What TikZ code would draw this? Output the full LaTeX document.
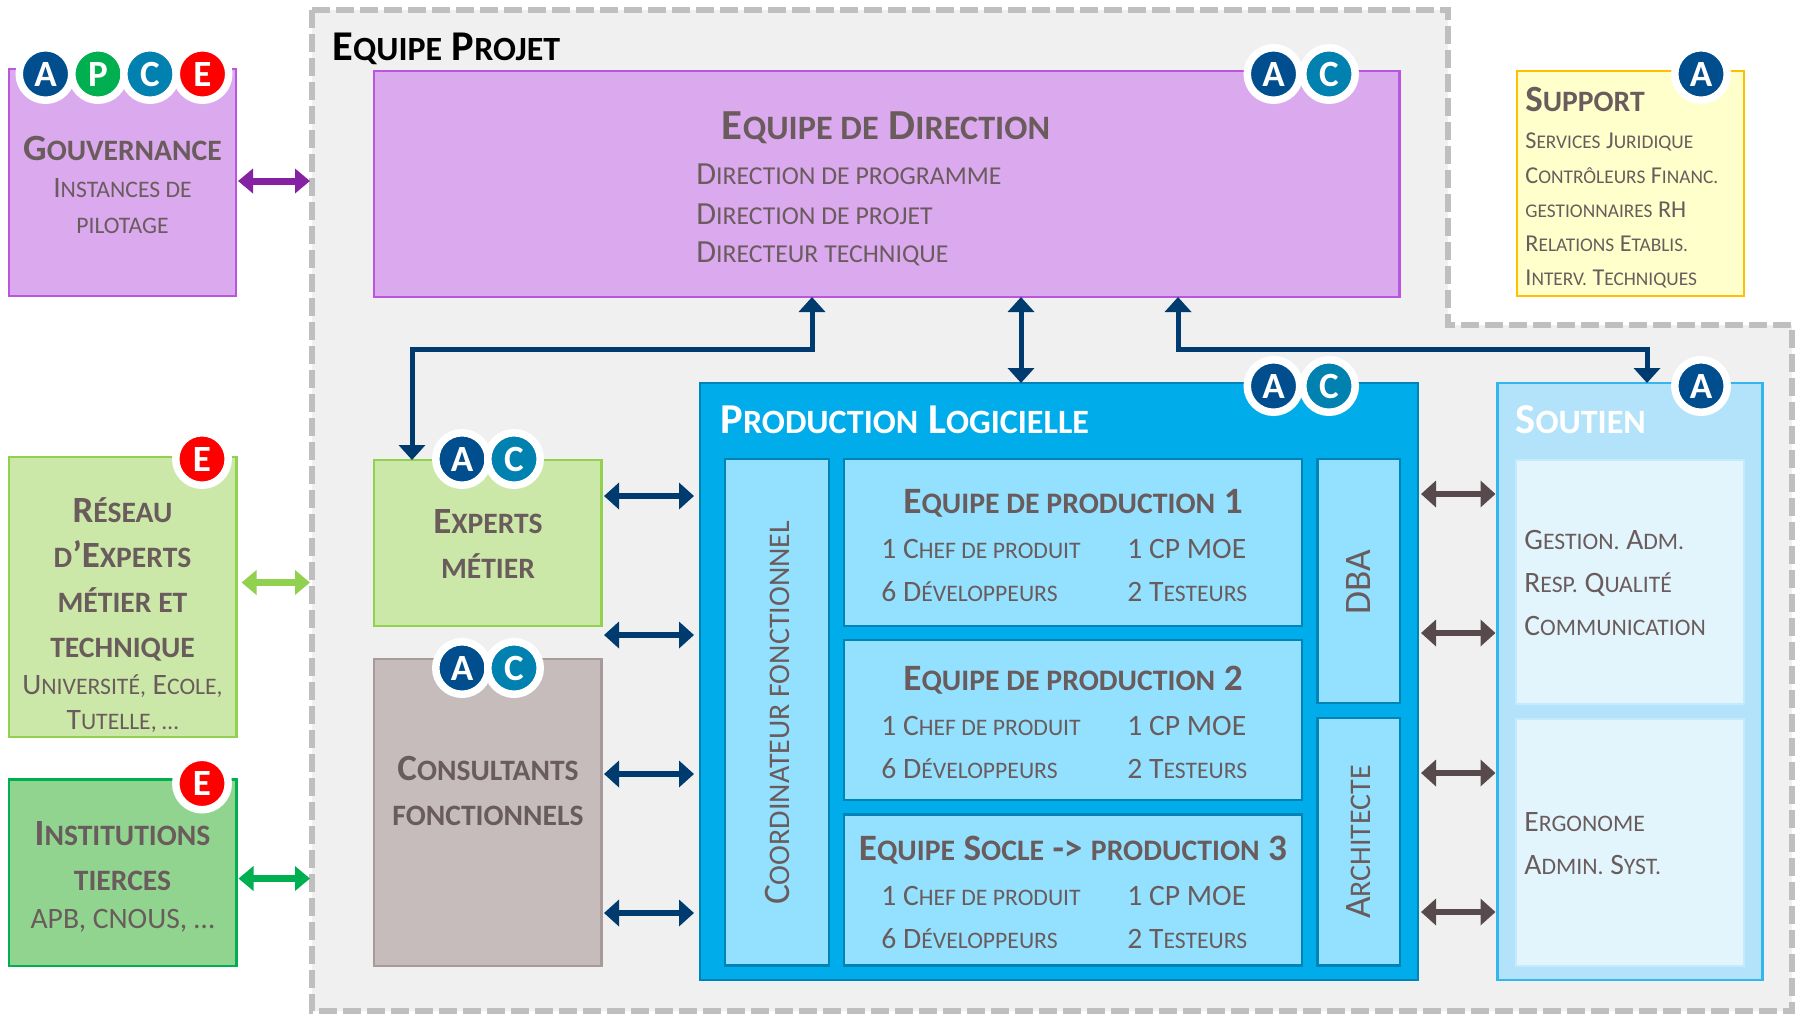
\documentclass[tikz,border=0pt]{standalone}
\usepackage{fontspec}
\setmainfont{Carlito}
\usetikzlibrary{arrows.meta}
\makeatletter
\newcommand\s[1]{{\@tempdima=\f@size pt\relax\@tempdima=0.8\@tempdima\fontsize{\strip@pt\@tempdima}{10}\selectfont\uppercase{#1}}}
\makeatother
\definecolor{txt}{HTML}{6A5C5C}
\definecolor{regfill}{HTML}{F0F0F0}
\definecolor{regdash}{HTML}{BFBFBF}
\definecolor{aC}{HTML}{004E8E}
\definecolor{pC}{HTML}{00B050}
\definecolor{cC}{HTML}{0081B0}
\definecolor{eC}{HTML}{FF0000}
\definecolor{navyA}{HTML}{003B6F}
\definecolor{brownA}{HTML}{584A4C}
\definecolor{purpleA}{HTML}{8522A3}
\tikzset{
  boxbase/.style={rectangle,inner sep=0pt,outer sep=0pt,line width=1.25pt},
  tbig/.style={text=txt,font=\bfseries\fontsize{18.5}{20}\selectfont},
  tmid/.style={text=txt,font=\fontsize{14.8}{16}\selectfont},
  tdir/.style={text=txt,font=\fontsize{16.1}{18}\selectfont},
  tsmall/.style={text=txt,font=\fontsize{12.1}{14}\selectfont},
  tteam/.style={text=txt,font=\fontsize{14.8}{16}\selectfont},
  ttitle/.style={text=txt,font=\bfseries\fontsize{18.6}{20}\selectfont},
  thead/.style={text=white,font=\bfseries\fontsize{21.3}{22}\selectfont},
  trot/.style={rotate=90,text=txt,inner sep=0pt,font=\fontsize{18.7}{20}\selectfont},
  badge/.style={circle,inner sep=0pt,outer sep=0pt,minimum size=26.25pt,draw=white,line width=3.75pt,text=white,font=\bfseries\fontsize{18.5}{20}\selectfont},
  dbl/.style={line width=3.5pt,{Triangle[length=7.5pt,width=12pt]}-{Triangle[length=7.5pt,width=12pt]},shorten >=1pt,shorten <=1pt},
  dblb/.style={line width=3pt,{Triangle[length=7.5pt,width=13pt]}-{Triangle[length=7.5pt,width=13pt]}},
  conn/.style={draw=navyA,line width=2.5pt,{Triangle[length=7.5pt,width=13pt]}-{Triangle[length=7.5pt,width=13pt]}},
}
\definecolor{gA}{HTML}{DBA9EE}\definecolor{gB}{HTML}{BA55DE}
\definecolor{rA}{HTML}{CCE8A8}\definecolor{rB}{HTML}{92D050}
\definecolor{iA}{HTML}{90D48F}\definecolor{iB}{HTML}{00B050}
\definecolor{kA}{HTML}{C6BCBC}\definecolor{kB}{HTML}{A89A9A}
\definecolor{prA}{HTML}{00ACEA}\definecolor{prB}{HTML}{0084B8}
\definecolor{suA}{HTML}{93E1FF}
\definecolor{soA}{HTML}{B3E3FA}\definecolor{soB}{HTML}{33B5EE}
\definecolor{inA}{HTML}{E2F5FD}\definecolor{inB}{HTML}{C5EAFB}
\definecolor{spA}{HTML}{FFFFCC}\definecolor{spB}{HTML}{FFC000}
\newcommand\bx[6]{\node[boxbase,#6,minimum width={(#4-#2)*0.5pt},minimum height={(#5-#3)*0.5pt}] (#1) at ({(#2+#4)/2},{(#3+#5)/2}) {};}
\newcommand\lbl[6]{\node[inner sep=0pt,anchor=#4,#5] (#1) at (#2,#3) {#6};}
\newcommand\bdg[5]{\node[badge,fill=#5] (#1) at (#2,#3) {#4};}
\begin{document}
\begin{tikzpicture}[x=0.5pt,y=-0.5pt]
\useasboundingbox (0,0) rectangle (1798,1014);
% project region
\draw[fill=regfill,draw=regdash,line width=2.75pt,dash pattern=on 9pt off 3pt]
  (312,10) -- (1448,10) -- (1448,325) -- (1792,325) -- (1792,1011) -- (312,1011) -- cycle;
\coordinate (regL) at (312,500);
\lbl{projet}{332}{60.5}{base west}{text=black,font=\bfseries\fontsize{21.2}{22}\selectfont}{E\s{quipe} P\s{rojet}}
% boxes
\bx{gov}{9}{69}{236}{296}{draw=gB,fill=gA}
\bx{dir}{374}{71}{1399.5}{297}{draw=gB,fill=gA}
\bx{sup}{1517}{71}{1744}{296}{draw=spB,fill=spA}
\bx{res}{9}{457}{236.5}{737}{draw=rB,fill=rA}
\bx{ins}{9}{779.5}{236.5}{966}{draw=iB,fill=iA}
\bx{exp}{374}{460}{601.5}{626}{draw=rB,fill=rA}
\bx{con}{374}{659}{601.5}{966}{draw=kB,fill=kA}
\bx{pro}{700}{383}{1418}{980}{draw=prB,fill=prA}
\bx{coo}{725}{459}{829}{965.5}{draw=prB,fill=suA}
\bx{eq1}{844}{459}{1302}{626}{draw=prB,fill=suA}
\bx{eq2}{844}{640}{1302}{800}{draw=prB,fill=suA}
\bx{eq3}{844}{814.5}{1302}{965.5}{draw=prB,fill=suA}
\bx{dba}{1317.5}{459}{1400}{703}{draw=prB,fill=suA}
\bx{arc}{1317.5}{718}{1400}{965.5}{draw=prB,fill=suA}
\bx{sou}{1497.5}{383}{1762.5}{980}{draw=soB,fill=soA}
\bx{si1}{1516}{460}{1744}{704}{draw=inB,fill=inA}
\bx{si2}{1516}{719}{1744}{966}{draw=inB,fill=inA}
% connectors
\draw[dbl,purpleA] (gov.east |- 0,181) -- (regL |- 0,181);
\draw[dbl,rB,shorten <=2.5pt] (res.east |- 0,582.5) -- (regL |- 0,582.5);
\draw[dbl,iB] (ins.east |- 0,878.5) -- (regL |- 0,878.5);
\foreach \yy/\aa in {496/exp,635/exp,774/con,913/con}{
  \draw[dblb,navyA,shorten >=3pt,shorten <=1.25pt] (\aa.east |- 0,\yy) -- (pro.west |- 0,\yy);
}
\foreach \yy in {494,633,773,912}{
  \draw[dblb,brownA,shorten >=1pt,shorten <=1.5pt] (pro.east |- 0,\yy) -- (sou.west |- 0,\yy);
}
\draw[conn] (812,0 |- dir.south) -- (812,349) -- (412,349) -- (412,0 |- exp.north);
\draw[conn] (1021,0 |- dir.south) -- (1021,0 |- pro.north);
\draw[conn] (1178,0 |- dir.south) -- (1178,349) -- (1647,349) -- (1647,0 |- sou.north);
% badges
\bdg{g1}{45.5}{74}{A}{aC}\bdg{g2}{98}{74}{P}{pC}\bdg{g3}{150}{74}{C}{cC}\bdg{g4}{202.5}{74}{E}{eC}
\bdg{d1}{1273.5}{74}{A}{aC}\bdg{d2}{1329}{74}{C}{cC}
\bdg{s1}{1701}{74}{A}{aC}
\bdg{p1}{1273.5}{386}{A}{aC}\bdg{p2}{1329}{386}{C}{cC}
\bdg{o1}{1701}{386}{A}{aC}
\bdg{e1}{462}{459}{A}{aC}\bdg{e2}{514}{459}{C}{cC}
\bdg{c1}{462}{668}{A}{aC}\bdg{c2}{514}{668}{C}{cC}
\bdg{r1}{202}{459}{E}{eC}
\bdg{i1}{202}{783.5}{E}{eC}
% texts
\lbl{t1}{122.5}{160}{base}{tbig}{G\s{ouvernance}}
\lbl{t2}{122.5}{197.7}{base}{tmid}{I\s{nstances de}}
\lbl{t3}{122.5}{233.7}{base}{tmid}{\s{pilotage}}
\lbl{t4}{886}{139}{base}{tbig,font=\bfseries\fontsize{21.4}{22}\selectfont}{E\s{quipe de} D\s{irection}}
\lbl{t5}{696}{184}{base west}{tdir}{D\s{irection de programme}}
\lbl{t6}{696}{224}{base west}{tdir}{D\s{irection de projet}}
\lbl{t7}{696}{262}{base west}{tdir}{D\s{irecteur technique}}
\lbl{t8}{1525}{111}{base west}{tbig}{S\s{upport}}
\lbl{t9}{1525}{148}{base west}{tsmall}{S\s{ervices} J\s{uridique}}
\lbl{t10}{1525}{183}{base west}{tsmall}{C\s{ontrôleurs} F\s{inanc.}}
\lbl{t11}{1525}{217}{base west}{tsmall}{\s{gestionnaires} RH}
\lbl{t12}{1525}{251}{base west}{tsmall}{R\s{elations} E\s{tablis.}}
\lbl{t13}{1525}{285}{base west}{tsmall}{I\s{nterv.} T\s{echniques}}
\lbl{t14}{122.5}{522}{base}{tbig}{R\s{éseau}}
\lbl{t15}{122.5}{567}{base}{tbig}{\s{d}’E\s{xperts}}
\lbl{t16}{122.5}{612}{base}{tbig}{\s{métier et}}
\lbl{t17}{122.5}{657}{base}{tbig}{\s{technique}}
\lbl{t18}{122.5}{694.6}{base}{tmid}{U\s{niversité,} E\s{cole,}}
\lbl{t19}{122.5}{729}{base}{tmid}{T\s{utelle, …}}
\lbl{t20}{122.5}{845}{base}{tbig}{I\s{nstitutions}}
\lbl{t21}{122.5}{890.5}{base}{tbig}{\s{tierces}}
\lbl{t22}{122.5}{928}{base}{tmid}{APB, CNOUS, …}
\lbl{t23}{488}{533.7}{base}{tbig}{E\s{xperts}}
\lbl{t24}{488}{578.7}{base}{tbig}{\s{métier}}
\lbl{t25}{488}{780.6}{base}{tbig}{C\s{onsultants}}
\lbl{t26}{488}{825}{base}{tbig}{\s{fonctionnels}}
\lbl{t27}{720}{433}{base west}{thead}{P\s{roduction} L\s{ogicielle}}
\lbl{t28}{1515}{433}{base west}{thead}{S\s{outien}}
\lbl{t29}{1073}{513}{base}{ttitle}{E\s{quipe de production} 1}
\lbl{t30}{881}{558}{base west}{tteam}{1 C\s{hef de produit}}
\lbl{t31}{1127}{558}{base west}{tteam}{1 CP MOE}
\lbl{t32}{881}{601}{base west}{tteam}{6 D\s{éveloppeurs}}
\lbl{t33}{1127}{601}{base west}{tteam}{2 T\s{esteurs}}
\lbl{t34}{1073}{690}{base}{ttitle}{E\s{quipe de production} 2}
\lbl{t35}{881}{735}{base west}{tteam}{1 C\s{hef de produit}}
\lbl{t36}{1127}{735}{base west}{tteam}{1 CP MOE}
\lbl{t37}{881}{778}{base west}{tteam}{6 D\s{éveloppeurs}}
\lbl{t38}{1127}{778}{base west}{tteam}{2 T\s{esteurs}}
\lbl{t39}{1073}{860}{base}{ttitle}{E\s{quipe} S\s{ocle} -> \s{production} 3}
\lbl{t40}{881}{905}{base west}{tteam}{1 C\s{hef de produit}}
\lbl{t41}{1127}{905}{base west}{tteam}{1 CP MOE}
\lbl{t42}{881}{948}{base west}{tteam}{6 D\s{éveloppeurs}}
\lbl{t43}{1127}{948}{base west}{tteam}{2 T\s{esteurs}}
\lbl{t44}{1524}{549.5}{base west}{tmid}{G\s{estion.} A\s{dm.}}
\lbl{t45}{1524}{592}{base west}{tmid}{R\s{esp.} Q\s{ualité}}
\lbl{t46}{1524}{635}{base west}{tmid}{C\s{ommunication}}
\lbl{t47}{1524}{831}{base west}{tmid}{E\s{rgonome}}
\lbl{t48}{1524}{874}{base west}{tmid}{A\s{dmin.} S\s{yst.}}
\node[trot] (t49) at (coo.center |- 0,713) {C\s{oordinateur fonctionnel}};
\node[trot] (t50) at (dba.center |- 0,582) {DBA};
\node[trot] (t51) at (arc.center |- 0,842) {A\s{rchitecte}};
\end{tikzpicture}
\end{document}
